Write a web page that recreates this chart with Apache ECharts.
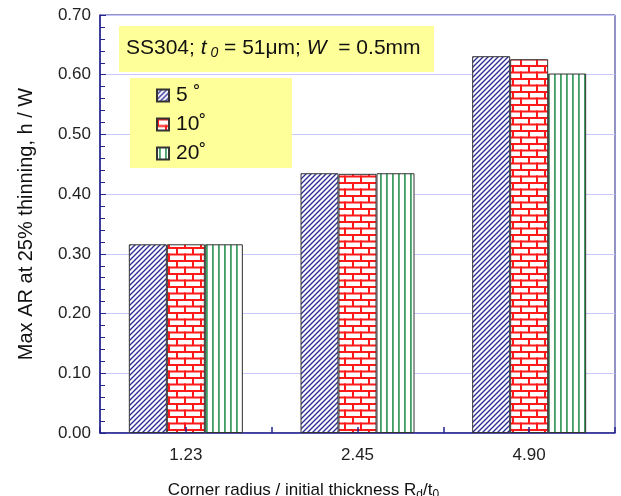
<!DOCTYPE html>
<html>
<head>
<meta charset="utf-8">
<script src="https://cdn.jsdelivr.net/npm/echarts@6/dist/echarts.min.js"></script>
<style>
  html, body { margin: 0; padding: 0; background: #fff; }
  #chart { width: 621px; height: 496px; }
</style>
</head>
<body>
<div id="chart"></div>
<script>
    // data
    var categories = ['1.23', '2.45', '4.90']
    var seriesNames = ['5 ˚', '10˚', '20˚']
    var angle5 = [0.316, 0.435, 0.631]
    var angle10 = [0.316, 0.434, 0.626]
    var angle20 = [0.316, 0.435, 0.602]

    var font = '"Liberation Sans", Arial, sans-serif'
    var axisColor = '#25258f'

    function makePattern(w, h, draw) {
        var c = document.createElement('canvas')
        c.width = w
        c.height = h
        var ctx = c.getContext('2d')
        ctx.fillStyle = '#fff'
        ctx.fillRect(0, 0, w, h)
        draw(ctx)
        return { image: c, repeat: 'repeat' }
    }

    // diagonal navy hatch
    var hatch = makePattern(5, 5, function (ctx) {
        ctx.strokeStyle = '#2e2e96'
        ctx.lineWidth = 1.4
        ctx.beginPath()
        ctx.moveTo(-1, 6); ctx.lineTo(6, -1)
        ctx.moveTo(-1, 1); ctx.lineTo(1, -1)
        ctx.moveTo(4, 6); ctx.lineTo(6, 4)
        ctx.stroke()
    })

    // red brick
    var brick = makePattern(16, 13, function (ctx) {
        ctx.fillStyle = '#ff1a1a'
        ctx.fillRect(0, 0, 16, 2)
        ctx.fillRect(0, 6.5, 16, 2)
        ctx.fillRect(0, 0, 2, 7)
        ctx.fillRect(8, 6.5, 2, 7)
    })

    // green vertical lines
    var vlines = makePattern(6, 6, function (ctx) {
        ctx.fillStyle = '#3f9f63'
        ctx.fillRect(2, 0, 1.8, 6)
    })

    var chart = echarts.init(document.getElementById('chart'))

    function barSeries(name, data, fill) {
        return {
            name: name,
            type: 'bar',
            z: 1,
            data: data,
            barWidth: 38,
            barGap: '0%',
            itemStyle: {
                color: fill,
                borderColor: '#333',
                borderWidth: 1
            }
        }
    }

    chart.setOption({
        animation: false,
        grid: {
            left: 100,
            right: 6,
            top: 15,
            bottom: 63,
            outerBoundsMode: 'none',
            show: true,
            borderColor: axisColor,
            borderWidth: 1,
            backgroundColor: 'transparent'
        },
        graphic: [
            {
                type: 'rect',
                z: 3,
                shape: { x: 119, y: 26, width: 315, height: 46 },
                style: { fill: '#ffff99' }
            },
            {
                type: 'rect',
                z: 3,
                shape: { x: 130, y: 78, width: 162, height: 90 },
                style: { fill: '#ffff99' }
            },
            {
                type: 'text',
                z: 5,
                left: 126,
                top: 38,
                style: {
                    text: '{n|SS304; }{i|t}{s| 0}{n| = 51μm; }{i|W}{n|  = 0.5mm}',
                    rich: {
                        n: { fontFamily: font, fontSize: 21, fill: '#111' },
                        i: { fontFamily: font, fontSize: 21, fontStyle: 'italic', fill: '#111' },
                        s: { fontFamily: font, fontSize: 14, fontStyle: 'italic', fill: '#111', padding: [9, 0, 0, 0] }
                    }
                }
            }
        ],
        legend: {
            orient: 'vertical',
            left: 156,
            top: 85,
            padding: 0,
            itemWidth: 12,
            itemHeight: 12,
            itemGap: 8,
            icon: 'rect',
            z: 6,
            textStyle: { fontFamily: font, fontSize: 21, color: '#111', padding: [0, 0, 0, 2] },
            data: seriesNames
        },
        xAxis: [
            {
                type: 'category',
                data: categories,
                axisLine: { lineStyle: { color: axisColor, width: 1.5 } },
                axisTick: { show: false },
                axisLabel: { fontFamily: font, fontSize: 17, color: '#222', margin: 14 },
                name: '{n|Corner radius / initial thickness R}{s|d}{n|/t}{s|0}',
                nameLocation: 'middle',
                nameGap: 46,
                nameTextStyle: {
                    padding: [0, 108, 0, 0],
                    rich: {
                        n: { fontFamily: font, fontSize: 17, color: '#111' },
                        s: { fontFamily: font, fontSize: 12, color: '#111', padding: [10, 0, 0, 0] }
                    }
                }
            },
            {
                // half-category ticks drawn above the bars
                type: 'value',
                min: 0,
                max: categories.length * 2,
                interval: 1,
                position: 'bottom',
                zlevel: 1,
                axisLine: { show: false },
                splitLine: { show: false },
                axisTick: { show: true, inside: true, length: 6, lineStyle: { color: axisColor, width: 1.5 } },
                axisLabel: { show: false }
            }
        ],
        yAxis: {
            type: 'value',
            min: 0,
            max: 0.7,
            interval: 0.1,
            axisLine: { show: true, lineStyle: { color: axisColor, width: 1.5 } },
            axisTick: { show: true, inside: true, length: 6, lineStyle: { color: axisColor } },
            minorTick: { show: true, splitNumber: 5, length: 5, lineStyle: { color: axisColor } },
            splitLine: { show: true, lineStyle: { color: '#c8c8ff', width: 1 } },
            axisLabel: {
                fontFamily: font,
                fontSize: 17,
                color: '#222',
                margin: 9,
                formatter: function (v) { return v.toFixed(2) }
            },
            name: 'Max AR at 25% thinning, h / W',
            nameLocation: 'middle',
            nameGap: 64,
            nameTextStyle: { fontFamily: font, fontSize: 20, color: '#111' }
        },
        series: [
            barSeries(seriesNames[0], angle5, hatch),
            barSeries(seriesNames[1], angle10, brick),
            barSeries(seriesNames[2], angle20, vlines)
        ]
    })
</script>
</body>
</html>
